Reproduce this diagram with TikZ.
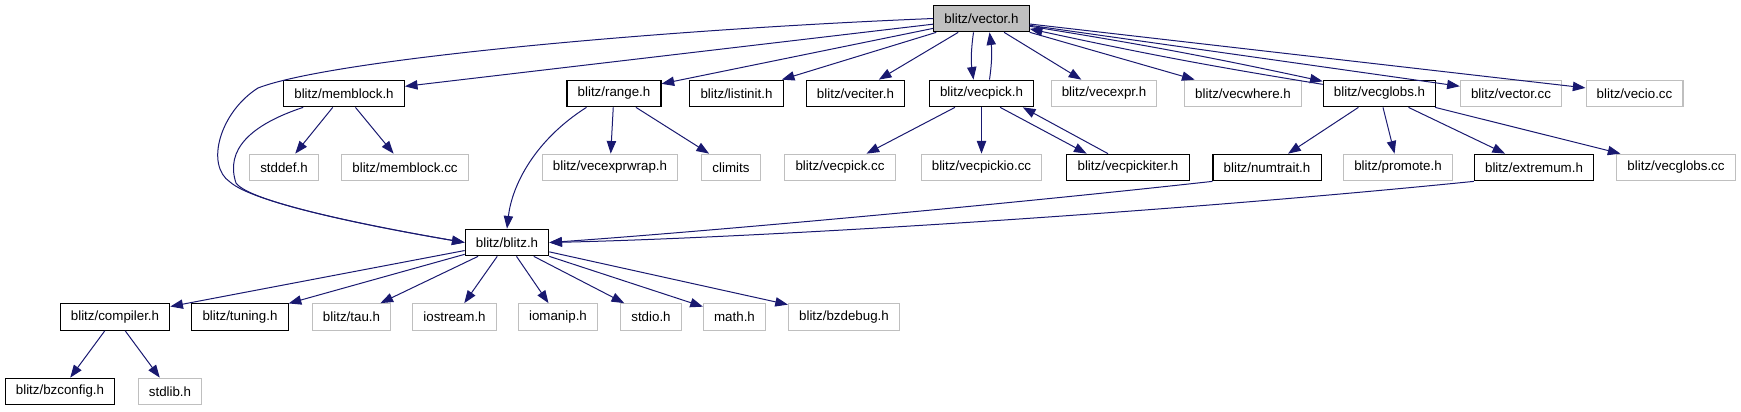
\documentclass[tikz,border=0pt]{standalone}
\usepackage{fontspec}
\setmainfont{Liberation Sans}
\usepackage{tikz}
\usetikzlibrary{arrows.meta}
\definecolor{bzEdge}{HTML}{191970}
\definecolor{bzGray}{HTML}{BFBFBF}
\definecolor{bzFill}{HTML}{BFBFBF}

\begin{document}
\begin{tikzpicture}[x=0.75pt, y=-0.75pt, font=\fontsize{10}{12}\selectfont,
    docbox/.style={rectangle, draw=black, line width=0.8pt, inner xsep=8pt, inner ysep=0pt, minimum height=20pt},
    extbox/.style={docbox, draw=bzGray},
    edge/.style={draw=bzEdge, line width=0.75pt, -{Triangle[length=9.5pt, width=7pt]}}]
  \useasboundingbox (0,0) rectangle (1741,411);

  \node[docbox, fill=bzFill] (vec) at (981.5,18.5) {blitz/vector.h};

  \node[docbox] (mem)  at (344,93.5)    {blitz/memblock.h};
  \node[docbox] (rng)  at (614,93.5)    {blitz/range.h};
  \node[docbox] (lst)  at (736.5,93.5)  {blitz/listinit.h};
  \node[docbox] (vit)  at (855.5,93.5)  {blitz/veciter.h};
  \node[docbox] (vpk)  at (981.5,93.5)  {blitz/vecpick.h};
  \node[extbox] (vex)  at (1104,93.5)   {blitz/vecexpr.h};
  \node[extbox] (vwh)  at (1243,93.5)   {blitz/vecwhere.h};
  \node[docbox] (vgl)  at (1379.5,93.5) {blitz/vecglobs.h};
  \node[extbox] (vcc)  at (1511,93.5)   {blitz/vector.cc};
  \node[extbox] (vio)  at (1634.5,93.5) {blitz/vecio.cc};

  \node[extbox] (sdf)  at (284,167.5)   {stddef.h};
  \node[extbox] (mcc)  at (405,167.5)   {blitz/memblock.cc};
  \node[extbox] (vew)  at (610,167.5)   {blitz/vecexprwrap.h};
  \node[extbox] (clm)  at (731,167.5)   {climits};
  \node[extbox] (vpc)  at (840,167.5)   {blitz/vecpick.cc};
  \node[extbox] (vpio) at (981.5,167.5) {blitz/vecpickio.cc};
  \node[docbox] (vpit) at (1128,167.5)  {blitz/vecpickiter.h};
  \node[docbox] (ntr)  at (1267,167.5)  {blitz/numtrait.h};
  \node[extbox] (prm)  at (1398,167.5)  {blitz/promote.h};
  \node[docbox] (xtr)  at (1534,167.5)  {blitz/extremum.h};
  \node[extbox] (vgcc) at (1676,167.5)  {blitz/vecglobs.cc};

  \node[docbox] (blz)  at (507,242.5)   {blitz/blitz.h};

  \node[docbox] (cmp)  at (115,317)     {blitz/compiler.h};
  \node[docbox] (tun)  at (240,317)     {blitz/tuning.h};
  \node[extbox] (tau)  at (351.5,317)   {blitz/tau.h};
  \node[extbox] (ios)  at (454.5,317)   {iostream.h};
  \node[extbox] (iom)  at (558,317)     {iomanip.h};
  \node[extbox] (sio)  at (651,317)     {stdio.h};
  \node[extbox] (mth)  at (734.5,317)   {math.h};
  \node[extbox] (bzd)  at (844,317)     {blitz/bzdebug.h};

  \node[docbox] (bzc)  at (60,391.5)    {blitz/bzconfig.h};
  \node[extbox] (stl)  at (170,391.5)   {stdlib.h};

  \draw[edge] (vec.west) .. controls (650,30) and (330,60) .. (258,88)
    .. controls (220,112) and (205,165) .. (230,182)
    .. controls (255,204) and (380,228) .. (blz.west);
  \draw[edge] (vec) -- (mem);
  \draw[edge] (vec) -- (rng);
  \draw[edge] (vec) -- (lst);
  \draw[edge] (vec) -- (vit);
  \draw[edge] ([xshift=-6pt]vec.south) to[bend right=8] ([xshift=-6pt]vpk.north);
  \draw[edge] ([xshift=6pt]vpk.north) to[bend right=8] ([xshift=6pt]vec.south);
  \draw[edge] (vec) -- (vex);
  \draw[edge] (vec) -- (vwh);
  \draw[edge] (vec) to[bend left=1.5] (vgl);
  \draw[edge] (vgl) to[bend left=1.5] (vec);
  \draw[edge] (vec) -- (vcc);
  \draw[edge] (vec) -- (vio);

  \draw[edge] (mem) -- (sdf);
  \draw[edge] (mem) -- (mcc);
  \draw[edge] ([xshift=15pt]mem.south west) .. controls (250,125) and (225,150) .. (236,183)
    .. controls (250,203) and (380,228) .. (blz.west);

  \draw[edge] ([xshift=15pt]rng.south west) .. controls (535,140) and (512,185) .. (blz.north);
  \draw[edge] (rng) -- (vew);
  \draw[edge] (rng) -- (clm);

  \draw[edge] (vpk) -- (vpc);
  \draw[edge] (vpk) -- (vpio);
  \draw[edge] ([xshift=14pt]vpk.south) -- ([xshift=-31pt]vpit.north);
  \draw[edge] ([xshift=-15pt]vpit.north) -- ([xshift=31pt]vpk.south);

  \draw[edge] (vgl) -- (ntr);
  \draw[edge] (vgl) -- (prm);
  \draw[edge] (vgl) -- (xtr);
  \draw[edge] (vgl) -- (vgcc);

  \draw[edge] (ntr.south west) .. controls (1000,205) and (700,232) .. (blz.east);
  \draw[edge] (xtr.south west) .. controls (1150,214) and (750,238) .. (blz.east);

  \foreach \dst in {cmp, tun, tau, ios, iom, sio, mth, bzd}
    \draw[edge] (blz) -- (\dst);

  \draw[edge] (cmp) -- (bzc);
  \draw[edge] (cmp) -- (stl);
\end{tikzpicture}
\end{document}
